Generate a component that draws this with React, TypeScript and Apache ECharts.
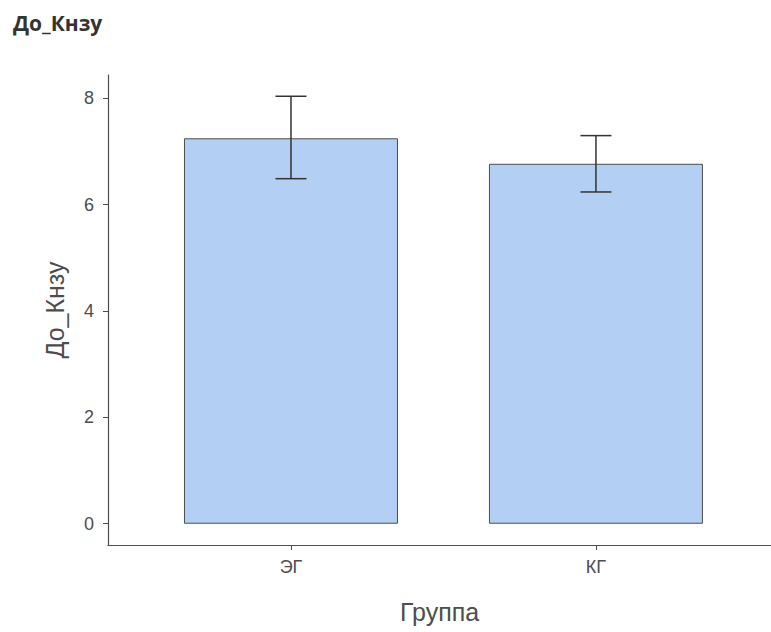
import React, { useEffect, useRef } from "react";
import * as echarts from "echarts";

const categories = ["ЭГ", "КГ"];
const means = [7.25, 6.77];
const errLow = [6.49, 6.24];
const errHigh = [8.04, 7.3];
const yTicks = [0, 2, 4, 6, 8];
const xPositions = [1, 2];

export default function App() {
  const ref = useRef<HTMLDivElement>(null);
  useEffect(() => {
    if (!ref.current) return;
    const chart = echarts.init(ref.current, null, { renderer: "svg" });
    const axisColor = "#4d4d4d";
    const labelColor = "#4d4d4d";
    chart.setOption({
      animation: false,
      title: {
        text: "До_Кнзу",
        left: 8,
        top: 7,
        textStyle: { fontFamily: "Open Sans", fontWeight: "bold", fontSize: 21, color: "#333" },
      },
      grid: { left: 108, top: 75, width: 663, height: 470, containLabel: false },
      xAxis: {
        type: "value",
        min: 0.4,
        max: 2.574,
        name: "Группа",
        nameLocation: "middle",
        nameGap: 54,
        nameTextStyle: { fontFamily: "Liberation Sans", fontSize: 25, color: labelColor },
        splitLine: { show: false },
        axisLine: { show: true, onZero: false, lineStyle: { color: axisColor, width: 1.2 } },
        axisTick: { show: true, length: 5, customValues: xPositions, lineStyle: { color: axisColor } },
        axisLabel: {
          customValues: xPositions,
          formatter: (v: number) => categories[Math.round(v) - 1] ?? "",
          fontFamily: "Liberation Sans",
          fontSize: 18,
          color: labelColor,
          margin: 13,
        },
      },
      yAxis: {
        type: "value",
        min: -0.4,
        max: 8.44,
        name: "До_Кнзу",
        nameLocation: "middle",
        nameGap: 41,
        nameTextStyle: { fontFamily: "Liberation Sans", fontSize: 25, color: labelColor },
        splitLine: { show: false },
        axisLine: { show: true, onZero: false, lineStyle: { color: axisColor, width: 1.2 } },
        axisTick: { show: true, length: 5, customValues: yTicks, lineStyle: { color: axisColor } },
        axisLabel: {
          customValues: yTicks,
          fontFamily: "Liberation Sans",
          fontSize: 18,
          color: labelColor,
          margin: 14,
        },
      },
      series: [
        {
          type: "bar",
          data: xPositions.map((x, i) => [x, means[i]]),
          barWidth: 214,
          itemStyle: { color: "#b3cff4", borderColor: "#4d4d4d", borderWidth: 1 },
        },
        {
          type: "custom",
          data: xPositions.map((x, i) => [x, errLow[i], errHigh[i]]),
          renderItem: (params: any, api: any) => {
            const x = api.value(0);
            const lo = api.coord([x, api.value(1)]);
            const hi = api.coord([x, api.value(2)]);
            const half = 15.5;
            const style = { stroke: "#333", lineWidth: 1.5 };
            return {
              type: "group",
              children: [
                { type: "line", shape: { x1: lo[0], y1: lo[1], x2: hi[0], y2: hi[1] }, style },
                { type: "line", shape: { x1: hi[0] - half, y1: hi[1], x2: hi[0] + half, y2: hi[1] }, style },
                { type: "line", shape: { x1: lo[0] - half, y1: lo[1], x2: lo[0] + half, y2: lo[1] }, style },
              ],
            };
          },
          z: 5,
        },
      ],
    });
    return () => chart.dispose();
  }, []);
  return <div ref={ref} style={{ width: 771, height: 632, position: "absolute", left: 0, top: 0 }} />;
}
